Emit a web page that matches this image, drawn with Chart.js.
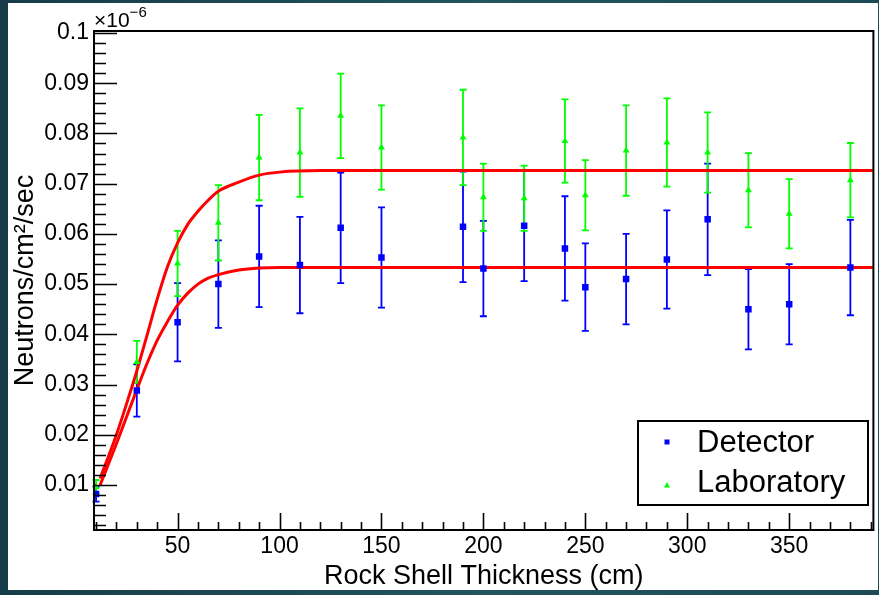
<!DOCTYPE html>
<html>
<head>
<meta charset="utf-8">
<script src="https://cdn.jsdelivr.net/npm/chart.js@4.4.0/dist/chart.umd.min.js"></script>
<style>
body{margin:0;width:879px;height:595px;overflow:hidden;background:linear-gradient(90deg,#163b49,#235460 55%,#1d4a56);}
#wrap{position:absolute;left:8px;top:3px;width:870px;height:587px;background:#fff;}
</style>
</head>
<body>
<div id="wrap"><canvas id="mychart" width="870" height="587"></canvas></div>
<script>
// thickness of the rock shell (cm)
var thickness = [10,30,50,70,90,110,130,150,190,200,220,240,250,270,290,310,330,350,380]

var detector = [0.0082,0.0288,0.0424,0.0500,0.0555,0.0538,0.0612,0.0553,0.0614,0.0531,0.0616,0.0571,0.0494,0.0510,0.0549,0.0629,0.0450,0.0460,0.0533]
var detectorErr = [0.0015,0.0052,0.0078,0.0087,0.0101,0.0096,0.0110,0.0100,0.0110,0.0095,0.0110,0.0104,0.0087,0.0090,0.0098,0.0111,0.0080,0.0080,0.0095]

var laboratory = [0.0096,0.0345,0.0541,0.0622,0.0752,0.0762,0.0835,0.0772,0.0792,0.0673,0.0671,0.0785,0.0677,0.0766,0.0782,0.0762,0.0687,0.0640,0.0707]
var laboratoryErr = [0.0014,0.0042,0.0065,0.0075,0.0085,0.0088,0.0084,0.0084,0.0095,0.0067,0.0065,0.0083,0.0070,0.0090,0.0088,0.0080,0.0074,0.0069,0.0074]

// fit curves
var detFitX = [12,20,25,30,35,40,45,50,55,60,65,70,80,90,100,120,391]
var detFitY = [0.0100,0.0182,0.0236,0.0290,0.0342,0.0388,0.0425,0.0458,0.0482,0.0500,0.0512,0.0519,0.0528,0.0532,0.0533,0.0533,0.0533]
var labFitX = [12,20,25,30,35,40,45,50,55,60,65,70,80,90,100,120,391]
var labFitY = [0.0113,0.0200,0.0262,0.0327,0.0398,0.0470,0.0534,0.0582,0.0619,0.0645,0.0667,0.0685,0.0703,0.0717,0.0723,0.0726,0.0726]

var xTicks = [50,100,150,200,250,300,350]
var yTicks = [0.01,0.02,0.03,0.04,0.05,0.06,0.07,0.08,0.09,0.1]

var FONT = "'Liberation Sans', Arial, sans-serif"
Chart.defaults.color = '#000'
Chart.defaults.font.family = FONT

function pts(xa, ya){ return xa.map(function(x,i){ return {x:x, y:ya[i]} }) }

var errorBars = {
	id:'errorBars',
	beforeDatasetsDraw: function(chart){
		var ctx = chart.ctx, sx = chart.scales.x, sy = chart.scales.y
		chart.data.datasets.forEach(function(ds){
			if (!ds.errors) return
			ctx.save()
			ctx.strokeStyle = ds.borderColor
			ctx.lineWidth = 1.8
			ds.data.forEach(function(p,i){
				var px = sx.getPixelForValue(p.x)
				var t = sy.getPixelForValue(p.y + ds.errors[i])
				var b = sy.getPixelForValue(p.y - ds.errors[i])
				ctx.beginPath()
				ctx.moveTo(px,t); ctx.lineTo(px,b)
				ctx.moveTo(px-3.5,t); ctx.lineTo(px+3.5,t)
				ctx.moveTo(px-3.5,b); ctx.lineTo(px+3.5,b)
				ctx.stroke()
			})
			ctx.restore()
		})
	}
}

var frame = {
	id:'frame',
	afterDraw: function(chart){
		var ctx = chart.ctx, a = chart.chartArea, sx = chart.scales.x, sy = chart.scales.y
		ctx.save()
		ctx.strokeStyle = '#000'
		// ticks pointing inwards
		ctx.lineWidth = 1.6
		ctx.beginPath()
		for (var v = 10; v <= 390; v += 10) {
			var px = Math.round(sx.getPixelForValue(v)) + 0.5
			var len = (v % 50 === 0) ? 17 : 8
			ctx.moveTo(px, a.bottom); ctx.lineTo(px, a.bottom - len)
		}
		for (var i = 1; i <= 50; i++) {
			var py = Math.round(sy.getPixelForValue(i*0.002)) + 0.5
			var l2 = (i % 5 === 0) ? 23 : 12
			ctx.moveTo(a.left, py); ctx.lineTo(a.left + l2, py)
		}
		ctx.stroke()
		ctx.lineWidth = 2
		ctx.strokeRect(a.left, a.top, a.right - a.left, a.bottom - a.top)

		// exponent
		ctx.fillStyle = '#000'
		ctx.textBaseline = 'alphabetic'
		ctx.font = '21px ' + FONT
		ctx.fillText('\u00d710', a.left, a.top - 4)
		var w = ctx.measureText('\u00d710').width
		ctx.font = '15px ' + FONT
		ctx.fillText('\u22126', a.left + w, a.top - 14)

		// legend
		var lx = 630, ly = 418, lw = 230, lh = 84
		ctx.fillStyle = '#fff'
		ctx.fillRect(lx, ly, lw, lh)
		ctx.lineWidth = 2
		ctx.strokeRect(lx, ly, lw, lh)
		var d0 = chart.data.datasets[0], d1 = chart.data.datasets[1]
		ctx.fillStyle = d0.backgroundColor
		ctx.fillRect(656.5, 436.5, 5, 5)
		ctx.fillStyle = d1.backgroundColor
		ctx.beginPath()
		ctx.moveTo(659, 479); ctx.lineTo(662, 484.5); ctx.lineTo(656, 484.5); ctx.closePath()
		ctx.fill()
		ctx.fillStyle = '#000'
		ctx.font = '31px ' + FONT
		ctx.fillText(d0.label, 689, 449)
		ctx.fillText(d1.label, 689, 489)
		ctx.restore()
	}
}

var myChart = document.getElementById('mychart').getContext('2d')

var chart = new Chart(myChart,{
	type:'scatter',
	data:{
		datasets:[
			{
				label:'Detector',
				data:pts(thickness, detector),
				errors:detectorErr,
				backgroundColor:'#0000ff',
				borderColor:'#0000ff',
				pointStyle:'rect',
				pointRadius:4.6,
				borderWidth:0,
				order:1
			},
			{
				label:'Laboratory',
				data:pts(thickness, laboratory),
				errors:laboratoryErr,
				backgroundColor:'#00ff00',
				borderColor:'#00ff00',
				pointStyle:'triangle',
				pointRadius:4,
				borderWidth:0,
				order:1
			},
			{
				label:'detector fit',
				data:pts(detFitX, detFitY),
				showLine:true,
				borderColor:'#ff0000',
				borderWidth:3,
				pointRadius:0,
				cubicInterpolationMode:'monotone',
				order:2
			},
			{
				label:'laboratory fit',
				data:pts(labFitX, labFitY),
				showLine:true,
				borderColor:'#ff0000',
				borderWidth:3,
				pointRadius:0,
				cubicInterpolationMode:'monotone',
				order:2
			}
		]
	},
	options:{
		responsive:false,
		animation:false,
		layout:{padding:{top:28,right:2,left:0,bottom:0}},
		plugins:{legend:{display:false},tooltip:{enabled:false}},
		scales:{
			x:{
				type:'linear', min:9, max:391.3,
				grid:{display:false, drawTicks:false},
				border:{display:false},
				afterBuildTicks:function(s){ s.ticks = xTicks.map(function(v){ return {value:v} }) },
				afterFit:function(s){ s.height = 60 },
				ticks:{font:{size:23}, padding:3, maxRotation:0, autoSkip:false, callback:function(v){ return String(v) }},
				title:{display:true, text:'Rock Shell Thickness (cm)', font:{size:27, lineHeight:1}, padding:{top:0,bottom:0}}
			},
			y:{
				type:'linear', min:0.00104, max:0.1004,
				grid:{display:false, drawTicks:false},
				border:{display:false},
				afterBuildTicks:function(s){ s.ticks = yTicks.map(function(v){ return {value:v} }) },
				afterFit:function(s){ s.width = 86 },
				ticks:{font:{size:23}, padding:5, autoSkip:false, callback:function(v){ return String(Number(v.toFixed(3))) }},
				title:{display:true, text:'Neutrons/cm\u00b2/sec', font:{size:27, lineHeight:1}, padding:{top:4,bottom:0}}
			}
		}
	},
	plugins:[errorBars, frame]
})
</script>
</body>
</html>
